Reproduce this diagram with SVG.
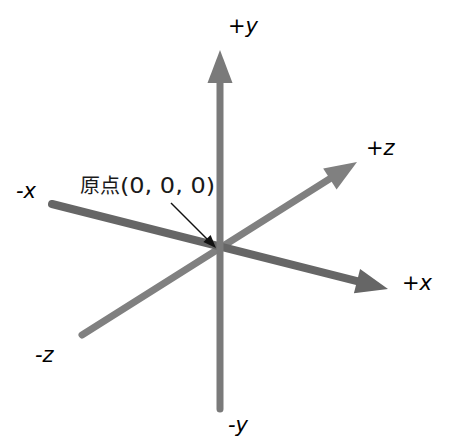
<svg xmlns="http://www.w3.org/2000/svg" width="451" height="445" viewBox="0 0 451 445">
  <style>
    .ax { fill: none; stroke-linecap: round; }
    .lbl { font-family: "DejaVu Sans", "Liberation Sans", sans-serif; font-size: 21px; font-style: italic; fill: #000; }
    .note { font-family: "Noto Sans CJK SC", "DejaVu Sans", sans-serif; font-size: 20px; fill: #1a1a1a; }
  </style>
  <rect width="451" height="445" fill="#ffffff"/>
  <g id="connectors">
    <g id="axis-z">
      <line class="ax" x1="82" y1="335" x2="331" y2="178" stroke="#808080" stroke-width="7"/>
      <polygon points="357,162 336.6,189.6 323.2,168.4" fill="#808080"/>
    </g>
    <g id="axis-x">
      <line class="ax" x1="52" y1="204" x2="358" y2="281.4" stroke="#666666" stroke-width="8"/>
      <polygon points="388,289 353.9,293.2 360.1,269" fill="#666666"/>
    </g>
    <g id="axis-y">
      <line class="ax" x1="220" y1="409" x2="220" y2="80" stroke="#7a7a7a" stroke-width="7"/>
      <polygon points="220,50 207.5,83 232.5,83" fill="#7a7a7a"/>
    </g>
    <g id="origin-pointer">
      <line x1="171" y1="203" x2="208" y2="240" stroke="#111" stroke-width="1.5"/>
      <polygon points="216,248 203.4,242.1 210.6,235.1" fill="#111"/>
    </g>
  </g>
  <g id="label-py"><text class="lbl" x="228" y="33">+y</text></g>
  <g id="label-ny"><text class="lbl" x="228" y="432">-y</text></g>
  <g id="label-nx"><text class="lbl" x="16" y="198">-x</text></g>
  <g id="label-px"><text class="lbl" x="402" y="290">+x</text></g>
  <g id="label-pz"><text class="lbl" x="366" y="155">+z</text></g>
  <g id="label-nz"><text class="lbl" x="35" y="362">-z</text></g>
  <g id="label-origin"><text class="note" x="80" y="193">原点<tspan font-family="'DejaVu Sans', sans-serif" font-size="21" textLength="95" lengthAdjust="spacingAndGlyphs">(0, 0, 0)</tspan></text></g>
</svg>
